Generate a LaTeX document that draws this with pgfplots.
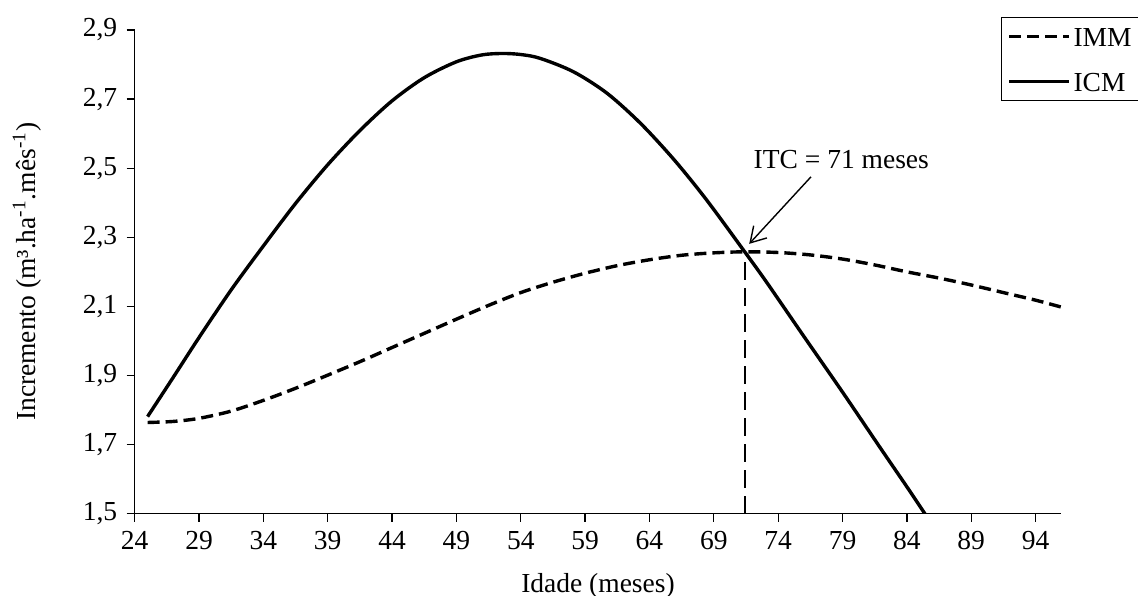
\documentclass[border=0pt]{standalone}
\usepackage{fontspec}
\setmainfont{Liberation Serif}
\usepackage{pgfplots}
\pgfplotsset{compat=1.18}
\usetikzlibrary{arrows.meta}

\begin{document}
\fontsize{13.75bp}{16.5bp}\selectfont
\begin{tikzpicture}
\useasboundingbox (0,0) rectangle (569bp,298bp);
\begin{axis}[
  at={(67.35bp,41.15bp)}, anchor=south west,
  scale only axis, width=463.3bp, height=241.85bp,
  xmin=24, xmax=96, ymin=1.5, ymax=2.9,
  axis x line*=bottom, axis y line*=left,
  axis line style={line width=0.65bp, black},
  tick align=outside, major tick length=4bp,
  tick style={line width=0.65bp, black},
  xtick={24,29,...,94},
  ytick={1.5,1.7,1.9,2.1,2.3,2.5,2.7,2.9},
  /pgf/number format/assume math mode=true,
  yticklabel style={/pgf/number format/.cd, fixed, fixed zerofill, precision=1, use comma},
  xticklabel style={/pgf/number format/.cd, fixed, precision=0},
  xlabel={Idade (meses)},
  ylabel={Incremento (m³.ha\textsuperscript{-1}.mês\textsuperscript{-1})},
  every axis x label/.style={at={(axis description cs:0.5,-0.1619)}, anchor=base},
  every axis y label/.style={at={(axis description cs:-0.1162,0.5)}, anchor=center, rotate=90},
  legend style={at={(0.935,1.027)}, anchor=north west, draw=black, line width=0.6bp,
    inner xsep=3bp, inner ysep=4.8bp, row sep=13bp,
    nodes={inner xsep=1.25bp, inner ysep=0bp, text height=9.5bp, text depth=0bp}},
  legend cell align=left,
  legend image code/.code={\draw[#1] (0bp,0bp) -- (30bp,0bp);},
]
\addplot[black, line width=1.7bp, dash pattern=on 6bp off 3bp, smooth] coordinates {
(25,1.764) (27,1.767) (29,1.776) (31.5,1.797) (34,1.828) (36.5,1.863) (39,1.901)
(41.5,1.940) (44,1.981) (46.5,2.022) (49,2.063) (51.5,2.103) (54,2.140) (56.5,2.170)
(59,2.196) (61.5,2.218) (64,2.235) (66.5,2.248) (69,2.255) (71.4,2.258) (74,2.256)
(76.5,2.249) (79,2.237) (81.5,2.220) (84,2.200) (86.5,2.182) (89,2.162) (91.5,2.140)
(94,2.118) (96,2.098)
};
\addlegendentry{IMM}
\addplot[black, line width=1.7bp, smooth] coordinates {
(25,1.781) (27,1.895) (29,2.010) (31.5,2.148) (34,2.275) (36.5,2.398) (39,2.510)
(41.5,2.609) (44,2.695) (46.5,2.762) (49,2.808) (51,2.828) (52.6,2.832) (54,2.829)
(55.5,2.818) (58.1,2.779) (60.7,2.717) (63.3,2.630) (65.9,2.525) (68.4,2.410)
(71.4,2.258) (73.1,2.170) (76,2.013) (79,1.852) (82,1.687) (84,1.578) (85.4,1.5)
};
\addlegendentry{ICM}
\addplot[black, line width=0.9bp, dash pattern=on 9bp off 4bp, forget plot] coordinates {
(71.45,1.5) (71.45,2.258)
};
\draw[line width=0.7bp, -{Straight Barb[length=7.5bp,width=9bp]}]
  (axis cs:76.55,2.475) -- (axis cs:71.75,2.281);
\node[anchor=base west, inner sep=0pt] at (axis cs:72.07,2.5) {ITC = 71 meses};
\end{axis}
\end{tikzpicture}
\end{document}
